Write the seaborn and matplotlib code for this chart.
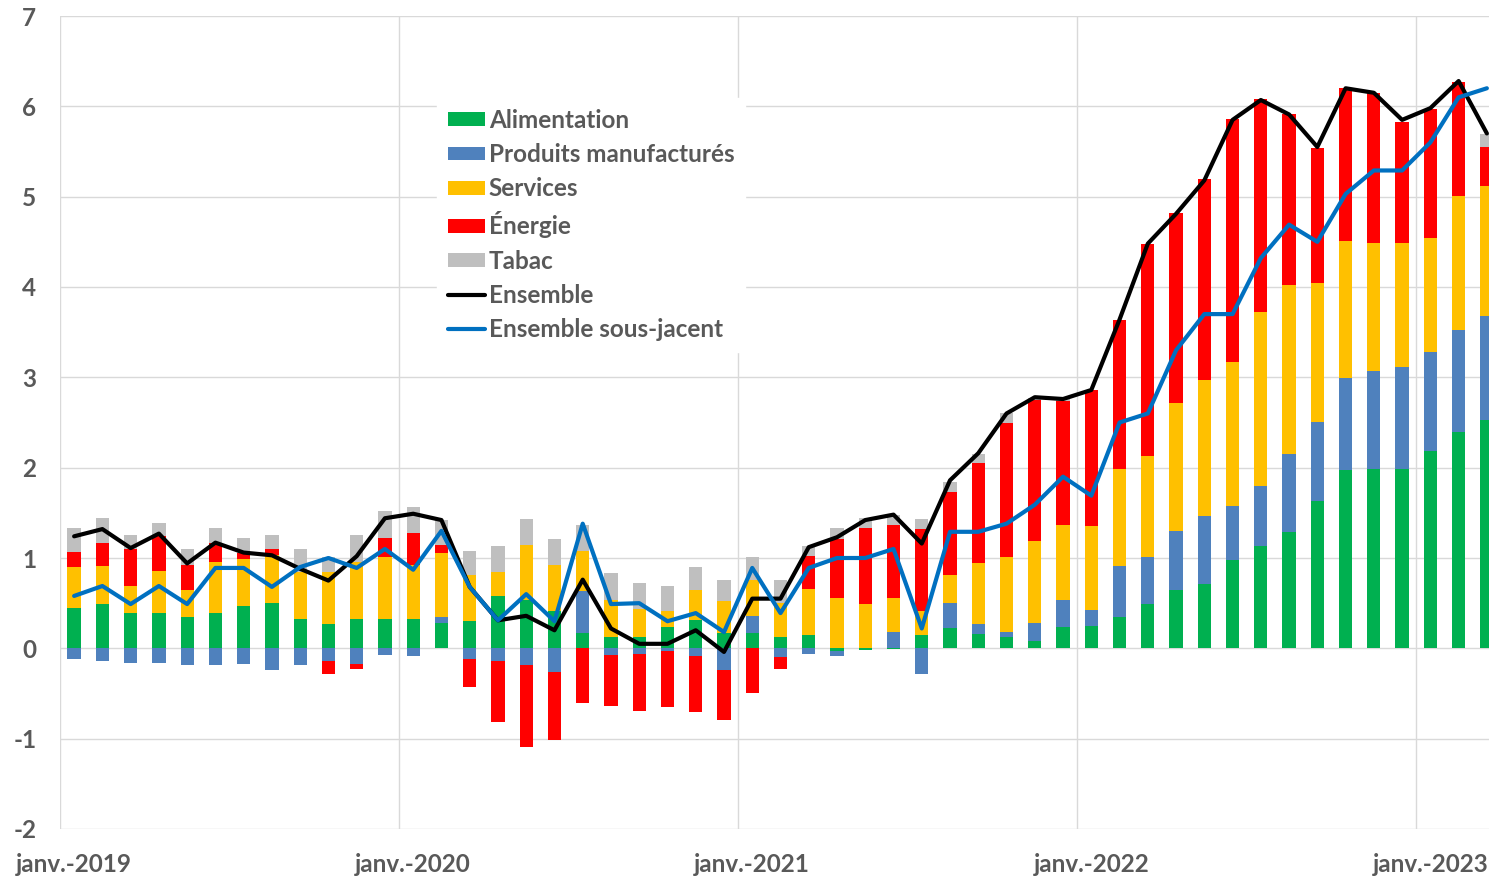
import numpy as np
import pandas as pd
import matplotlib
matplotlib.use("Agg")
import matplotlib.pyplot as plt
import seaborn as sns
from matplotlib.patches import Patch
from matplotlib.lines import Line2D

# monthly contributions (points of %), janv.-2019 .. mars-2023
months = [d.strftime("%Y-%m") for d in pd.date_range("2019-01-01", "2023-03-01", freq="MS")]

alimentation = [0.45, 0.49, 0.39, 0.39, 0.35, 0.39, 0.47, 0.50, 0.32, 0.27, 0.33, 0.33,
                0.32, 0.28, 0.30, 0.58, 0.53, 0.41, 0.17, 0.13, 0.13, 0.24, 0.31, 0.17,
                0.17, 0.13, 0.15, -0.03, -0.02, -0.01, 0.15, 0.22, 0.16, 0.12, 0.08, 0.24,
                0.25, 0.35, 0.49, 0.65, 0.71, 0.98, 1.13, 1.29, 1.63, 1.97, 1.98, 1.98,
                2.18, 2.39, 2.53]
manufactures = [-0.12, -0.14, -0.16, -0.16, -0.18, -0.18, -0.17, -0.24, -0.19, -0.14, -0.17, -0.07,
                -0.09, 0.07, -0.12, -0.14, -0.18, -0.26, 0.46, -0.07, -0.06, -0.03, -0.09, -0.24,
                0.19, -0.10, -0.06, -0.06, 0.00, 0.18, -0.28, 0.28, 0.11, 0.06, 0.20, 0.29,
                0.17, 0.56, 0.52, 0.65, 0.75, 0.60, 0.67, 0.86, 0.88, 1.02, 1.09, 1.13,
                1.10, 1.13, 1.15]
services = [0.45, 0.42, 0.30, 0.47, 0.30, 0.57, 0.52, 0.53, 0.53, 0.58, 0.63, 0.68,
            0.60, 0.70, 0.51, 0.27, 0.61, 0.51, 0.45, 0.41, 0.31, 0.17, 0.34, 0.35,
            0.40, 0.37, 0.51, 0.56, 0.49, 0.38, 0.26, 0.31, 0.67, 0.83, 0.91, 0.84,
            0.93, 1.07, 1.12, 1.42, 1.51, 1.59, 1.92, 1.87, 1.53, 1.52, 1.42, 1.38,
            1.26, 1.49, 1.44]
energie = [0.17, 0.26, 0.41, 0.38, 0.27, 0.21, 0.06, 0.07, 0.00, -0.14, -0.06, 0.21,
           0.36, 0.09, -0.31, -0.68, -0.91, -0.75, -0.60, -0.57, -0.63, -0.62, -0.61, -0.55,
           -0.49, -0.13, 0.36, 0.65, 0.84, 0.81, 0.91, 0.92, 1.11, 1.49, 1.56, 1.37,
           1.51, 1.66, 2.35, 2.10, 2.23, 2.69, 2.36, 1.90, 1.50, 1.69, 1.66, 1.34,
           1.43, 1.26, 0.43]
tabac = [0.26, 0.27, 0.15, 0.15, 0.18, 0.16, 0.17, 0.15, 0.25, 0.16, 0.29, 0.30,
         0.29, 0.28, 0.27, 0.28, 0.29, 0.29, 0.29, 0.29, 0.28, 0.28, 0.25, 0.24,
         0.25, 0.26, 0.11, 0.12, 0.11, 0.11, 0.11, 0.11, 0.10, 0.11, 0.02, 0.02,
         0.00, 0.00, 0.00, 0.00, 0.00, 0.00, 0.00, 0.00, 0.00, 0.00, 0.00, 0.00,
         0.00, 0.00, 0.14]
ensemble = [1.24, 1.32, 1.11, 1.27, 0.94, 1.17, 1.06, 1.03, 0.88, 0.75, 1.02, 1.44,
            1.49, 1.42, 0.68, 0.31, 0.36, 0.20, 0.76, 0.22, 0.05, 0.05, 0.20, -0.04,
            0.55, 0.55, 1.12, 1.23, 1.42, 1.48, 1.16, 1.86, 2.16, 2.60, 2.78, 2.76,
            2.86, 3.64, 4.48, 4.81, 5.18, 5.85, 6.07, 5.91, 5.55, 6.20, 6.15, 5.85,
            5.98, 6.28, 5.70]
sous_jacent = [0.58, 0.69, 0.49, 0.69, 0.49, 0.89, 0.89, 0.68, 0.90, 1.00, 0.89, 1.10,
               0.87, 1.30, 0.68, 0.31, 0.60, 0.30, 1.38, 0.49, 0.50, 0.30, 0.39, 0.18,
               0.89, 0.39, 0.89, 1.00, 1.00, 1.10, 0.22, 1.29, 1.29, 1.38, 1.59, 1.90,
               1.69, 2.50, 2.60, 3.30, 3.70, 3.70, 4.32, 4.69, 4.50, 5.03, 5.29, 5.29,
               5.60, 6.10, 6.20]

tick_labels = ["janv.-2019", "janv.-2020", "janv.-2021", "janv.-2022", "janv.-2023"]

components = [
    ("Alimentation", alimentation, "#00B050"),
    ("Produits manufacturés", manufactures, "#4F81BD"),
    ("Services", services, "#FFC000"),
    ("Énergie", energie, "#FF0000"),
    ("Tabac", tabac, "#BFBFBF"),
]

sns.set_theme(style="white")
plt.rcParams["font.family"] = ["Lato", "DejaVu Sans"]
plt.rcParams["font.weight"] = "bold"

fig = plt.figure(figsize=(14.89, 8.77), dpi=100)
ax = fig.add_axes([60 / 1489, 48 / 877, 1441 / 1489, 813 / 877])

n = len(months)
pos_base = np.zeros(n)
neg_base = np.zeros(n)
for name, vals, col in components:
    v = np.array(vals, dtype=float)
    bottom = np.where(v >= 0, pos_base, neg_base)
    sns.barplot(x=months, y=v, bottom=bottom, color=col, saturation=1, width=0.47,
                errorbar=None, edgecolor="none", ax=ax, zorder=2)
    pos_base += np.clip(v, 0, None)
    neg_base += np.clip(v, None, 0)

xpos = np.arange(n)
sns.lineplot(x=xpos, y=ensemble, color="black", linewidth=3.0, ax=ax, legend=False, zorder=3)
sns.lineplot(x=xpos, y=sous_jacent, color="#0070C0", linewidth=3.0, ax=ax, legend=False, zorder=4)

ax.set_xlim(-0.5, n - 0.5)
ax.set_ylim(-2, 7)
ax.set_yticks(range(-2, 8))
ax.set_yticklabels([str(v) for v in range(-2, 8)])
ax.set_xticks([0, 12, 24, 36, 48])
ax.set_xticklabels(tick_labels)
ax.set_xticks([-0.5, 11.5, 23.5, 35.5, 47.5], minor=True)
ax.set_xlabel("")
ax.set_ylabel("")

ax.set_axisbelow(True)
ax.grid(axis="y", which="major", color="#D9D9D9", linewidth=1.0)
ax.grid(axis="x", which="minor", color="#D9D9D9", linewidth=1.0)
ax.grid(axis="x", which="major", visible=False)
for s in ax.spines.values():
    s.set_visible(False)

ax.tick_params(axis="y", length=0, pad=17, labelsize=17.5, labelcolor="#595959")
ax.tick_params(axis="x", which="both", length=0, pad=17, labelsize=17.5, labelcolor="#595959")
for lab in ax.get_xticklabels() + ax.get_yticklabels():
    lab.set_fontweight("bold")

handles = [Patch(facecolor=c, edgecolor="none") for _, _, c in components]
handles += [Line2D([0], [0], color="black", linewidth=3.0),
            Line2D([0], [0], color="#0070C0", linewidth=3.0)]
labels = [name for name, _, _ in components] + ["Ensemble", "Ensemble sous-jacent"]
leg = fig.legend(handles, labels, loc="upper left", bbox_to_anchor=(437 / 1489, 1 - 98 / 877),
                 frameon=True, fancybox=False, framealpha=1, edgecolor="white",
                 facecolor="white", prop={"size": 17.5, "weight": "bold"},
                 handlelength=1.52, handleheight=0.5, handletextpad=0.16,
                 labelspacing=0.46, borderpad=0.45, borderaxespad=0)
for t in leg.get_texts():
    t.set_color("#595959")
leg.set_zorder(10)

fig.savefig("out.png", dpi=100)
